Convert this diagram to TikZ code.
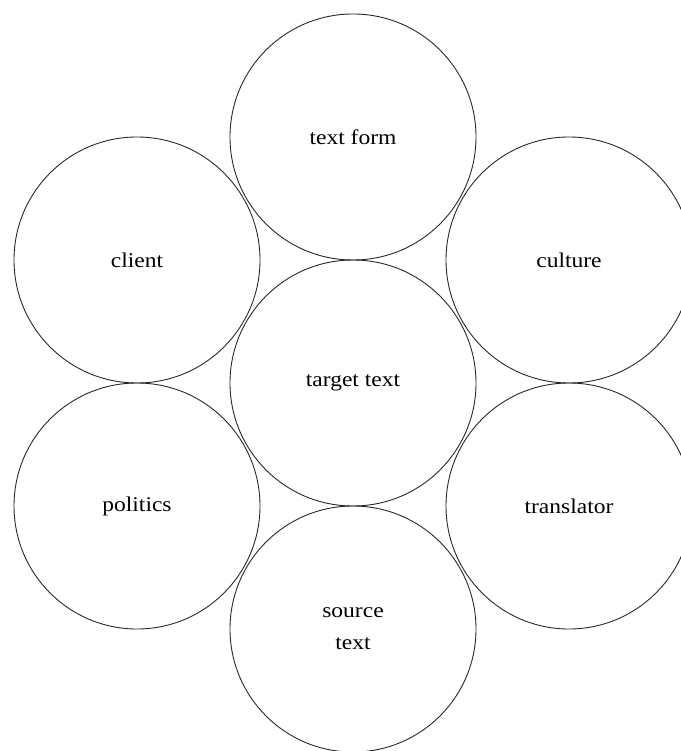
\documentclass[tikz,border=0pt]{standalone}
\usepackage{fontspec}
\setmainfont{Liberation Serif}[FakeStretch=1.12]
\usepackage{tikz}
\usetikzlibrary{positioning}
\definecolor{ringgray}{RGB}{40, 40, 40}

\begin{document}
\begin{tikzpicture}[
  x=1pt, y=-1pt,
  ring/.style={draw=ringgray, circle, line width=0.9pt, minimum size=246pt, inner sep=0pt, align=center, font=\fontsize{21}{32}\selectfont}
]
  \useasboundingbox (0, 0) rectangle (680, 751);

  \node[ring] (target) at (353, 383) {target text};
  \node[ring] (textform) at (353, 137) {text form};
  \node[ring] (client) at (137, 260) {client};
  \node[ring] (culture) at (569, 260) {culture};
  \node[ring] (politics) at (137, 506) {politics};
  \node[ring] (translator) at (569, 506) {translator};
  \node[ring] (source) at (353, 629) {source\\text};
\end{tikzpicture}
\end{document}
